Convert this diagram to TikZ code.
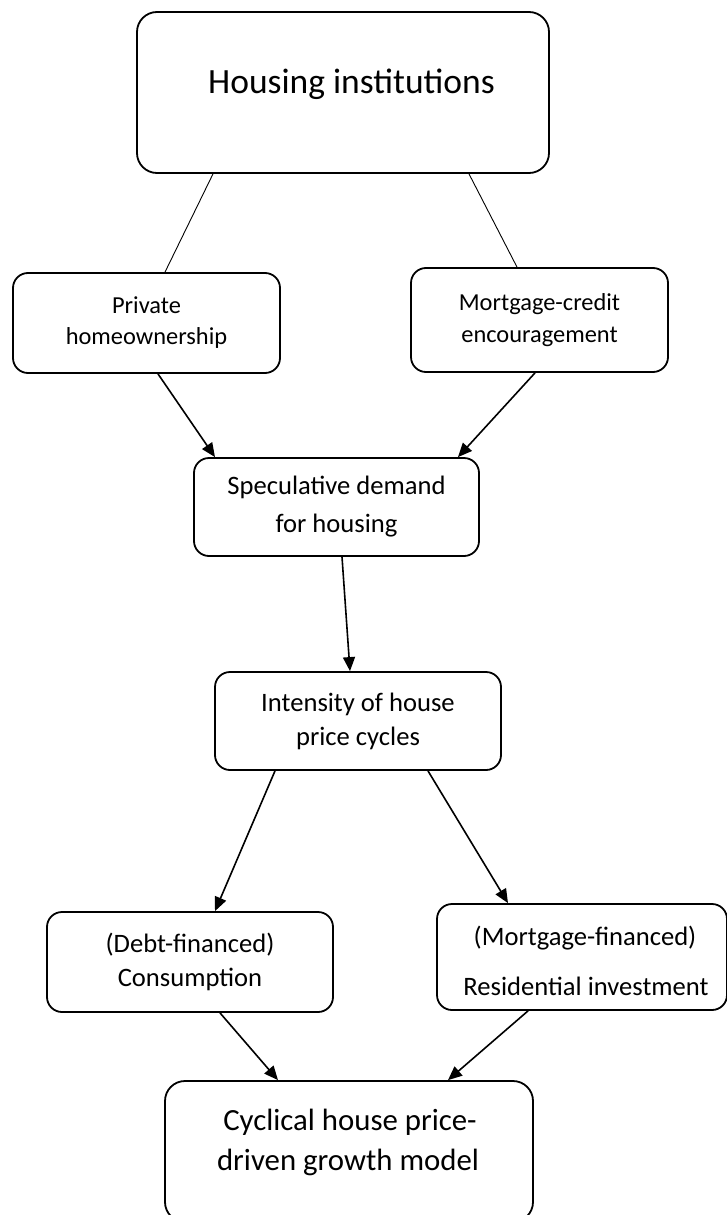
\documentclass[tikz,border=0pt]{standalone}
\usepackage{fontspec}
\setmainfont{Carlito}
\usetikzlibrary{arrows.meta}
\begin{document}
\begin{tikzpicture}[x=1pt,y=-1pt,
  box/.style={draw, line width=1.8pt, rounded corners=15pt, align=center, inner sep=0pt},
  link/.style={line width=0.9pt},
  arr/.style={line width=1.6pt, -{Triangle[length=14pt,width=12pt]}},
  smalltxt/.style={font=\fontsize{24.4}{31}\selectfont},
  midtxt/.style={font=\fontsize{26.6}{34}\selectfont},
  ]
\useasboundingbox (0,0) rectangle (726,1215);

% boxes
\node[box, rounded corners=20pt, minimum width=412pt, minimum height=161pt] (inst) at (343,92.5) {};
\node[font=\fontsize{35.5}{42}\selectfont, anchor=base] (instT) at (351.5,93) {Housing institutions};

\node[box, smalltxt, minimum width=267pt, minimum height=100pt] (priv) at (146.5,323) {Private\\homeownership};
\node[box, font=\fontsize{24.4}{32}\selectfont, minimum width=257pt, minimum height=104pt] (mort) at (539.5,320) {Mortgage-credit\\encouragement};
\node[box, font=\fontsize{26.6}{38}\selectfont, minimum width=285pt, minimum height=98pt] (spec) at (336.5,507) {Speculative demand\\for housing};
\node[box, midtxt, minimum width=286pt, minimum height=98pt] (inten) at (358,721) {Intensity of house\\price cycles};
\node[box, midtxt, minimum width=286pt, minimum height=100pt] (debt) at (190,962) {(Debt-financed)\\Consumption};

\node[box, minimum width=290pt, minimum height=106pt] (resid) at (582,957) {};
\node[midtxt, anchor=base] (residA) at (585,945) {(Mortgage-financed)};
\node[midtxt, anchor=base] (residB) at (586,995) {Residential investment};

\node[box, rounded corners=20pt, minimum width=368pt, minimum height=141pt] (cyc) at (349,1151.5) {};
\node[font=\fontsize{30.8}{40}\selectfont, anchor=base] (cycA) at (350,1130) {Cyclical house price-};
\node[font=\fontsize{30.8}{40}\selectfont, anchor=base] (cycB) at (348,1170) {driven growth model};

% connectors
\draw[link] (inst.south -| 213,0) -- (priv.north -| 165,0);
\draw[link] (inst.south -| 469,0) -- (mort.north -| 517,0);

\draw[arr] (priv.south -| 158,0) -- (spec.north -| 215,0);
\draw[arr] (mort.south -| 535,0) -- (spec.north -| 458,0);
\draw[arr] (spec.south -| 342,0) -- (inten.north -| 350,0);
\draw[arr] (inten.south -| 275,0) -- (debt.north -| 215,0);
\draw[arr] (inten.south -| 428,0) -- (resid.north -| 508,0);
\draw[arr] (debt.south -| 220,0) -- (cyc.north -| 278,0);
\draw[arr] (resid.south -| 528,0) -- (cyc.north -| 448,0);
\end{tikzpicture}
\end{document}
